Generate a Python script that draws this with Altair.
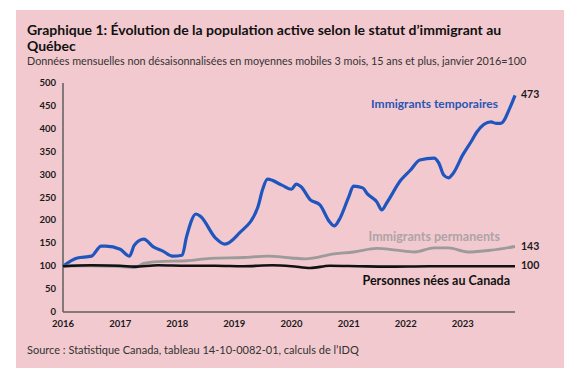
import altair as alt
import pandas as pd

temp_dates = ["2016-01","2016-04","2016-07","2016-09","2016-10","2017-01","2017-03","2017-04","2017-06",
              "2017-08","2017-10","2017-12","2018-02","2018-03","2018-05","2018-06","2018-09","2018-11",
              "2019-02","2019-06","2019-07","2019-08","2019-11","2020-01","2020-02","2020-03","2020-05",
              "2020-07","2020-09","2020-10","2020-11","2021-01","2021-02","2021-04","2021-05","2021-07",
              "2021-08","2021-09","2021-12","2022-02","2022-04","2022-07","2022-08","2022-09","2022-10",
              "2022-11","2023-01","2023-03","2023-04","2023-07","2023-08","2023-09","2023-11","2023-12"]
temp_vals = [100,118,122,144,144,137,122,146,159,
             142,133,122,124,164,214,208,162,148,
             172,230,268,290,277,268,279,274,245,
             234,197,188,201,251,275,271,258,240,
             223,238,288,310,332,336,325,299,293,
             303,343,375,393,415,412,412,448,473]

perm_dates = ["2016-01","2016-06","2016-12","2017-04","2017-06","2017-09","2018-03","2018-08","2019-03",
              "2019-08","2020-01","2020-04","2020-10","2021-02","2021-07","2021-11","2022-03","2022-07",
              "2022-10","2023-02","2023-07","2023-12"]
perm_vals = [100,101,100,97,106,110,112,117,119,
             122,118,116,127,131,139,135,131,140,
             140,131,135,143]

born_dates = ["2016-01","2016-07","2017-01","2017-04","2017-09","2018-03","2018-09","2019-03","2019-09",
              "2020-01","2020-05","2020-09","2021-03","2021-09","2022-06","2023-03","2023-12"]
born_vals = [100,102,101,99,102,101,101,100,102,
             100,96,101,100,99,100,100,100]

series_names = ["Immigrants temporaires", "Immigrants permanents", "Personnes nées au Canada"]
series_colors = ["#1f55bf", "#9c9a9b", "#111111"]
year_ticks = ["2016", "2017", "2018", "2019", "2020", "2021", "2022", "2023"]
y_ticks = [0, 50, 100, 150, 200, 250, 300, 350, 400, 450, 500]

title_lines = ["Graphique 1: Évolution de la population active selon le statut d’immigrant au", "Québec"]
subtitle = "Données mensuelles non désaisonnalisées en moyennes mobiles 3 mois, 15 ans et plus, janvier 2016=100"
source = "Source : Statistique Canada, tableau 14-10-0082-01, calculs de l’IDQ"

rows = []
for name, ds, vs in zip(series_names, [temp_dates, perm_dates, born_dates], [temp_vals, perm_vals, born_vals]):
    for d, v in zip(ds, vs):
        rows.append({"serie": name, "date": d + "-01", "valeur": v})
df = pd.DataFrame(rows)
last = df.groupby("serie", as_index=False).last()
xt = pd.DataFrame({"date": [y + "-01-01" for y in year_ticks], "lab": year_ticks})
yt = pd.DataFrame({"v": y_ticks})

FONT = "Lato"
W, H = 452, 229
PINK = "#f2c9cf"
AX = "#5e5e5e"

x_scale = alt.Scale(domain=[alt.DateTime(year=2016, month=1, date=1), alt.DateTime(year=2023, month=12, date=1)])
y_scale = alt.Scale(domain=[0, 500], nice=False)
color_scale = alt.Scale(domain=series_names, range=series_colors)
one = pd.DataFrame({"a": [0]})

bg = alt.Chart(one).mark_rect(color=PINK).encode(
    x=alt.value(-47), x2=alt.value(501), y=alt.value(-73), y2=alt.value(285))

y_dom = alt.Chart(one).mark_rule(color=AX, strokeWidth=1.5).encode(
    x=alt.value(0), y=alt.value(0), y2=alt.value(H))
x_dom = alt.Chart(one).mark_rule(color=AX, strokeWidth=1.5).encode(
    x=alt.value(0), x2=alt.value(W), y=alt.value(H))

lines = alt.Chart(df).mark_line(interpolate="monotone").encode(
    x=alt.X("date:T", scale=x_scale, axis=None),
    y=alt.Y("valeur:Q", scale=y_scale, axis=None),
    color=alt.Color("serie:N", scale=color_scale, legend=None),
    strokeWidth=alt.StrokeWidth("serie:N", scale=alt.Scale(domain=series_names, range=[3.2, 2.6, 3]), legend=None),
    detail="serie:N",
)

x_labels = alt.Chart(xt).mark_text(baseline="top", font=FONT, fontSize=9.5, fontWeight="bold",
                                   color="#1a1a1a").encode(
    x=alt.X("date:T", scale=x_scale, axis=None), y=alt.value(H + 7), text="lab:N")
y_labels = alt.Chart(yt).mark_text(align="right", baseline="middle", font=FONT, fontSize=9.5,
                                   fontWeight="bold", color="#1a1a1a").encode(
    y=alt.Y("v:Q", scale=y_scale, axis=None), x=alt.value(-7), text="v:Q")

end_labels = alt.Chart(last).mark_text(align="left", baseline="middle", dx=6, font=FONT,
                                       fontSize=10.5, fontWeight="bold", color="#1a1a1a").encode(
    x=alt.X("date:T", scale=x_scale, axis=None), y=alt.Y("valeur:Q", scale=y_scale, axis=None), text="valeur:Q")

def txt(s, x, y, size, color, weight="normal", align="left"):
    return alt.Chart(pd.DataFrame({"t": [s]})).mark_text(
        align=align, baseline="alphabetic", font=FONT, fontSize=size, fontWeight=weight, color=color
    ).encode(x=alt.value(x), y=alt.value(y), text="t:N")

annots = [
    txt(title_lines[0], -36, -48, 14, "#111111", "bold"),
    txt(title_lines[1], -36, -32, 14, "#111111", "bold"),
    txt(subtitle, -36, -18, 10.8, "#333333"),
    txt(source, -36, 271, 11, "#333333"),
    txt(series_names[0], 435, 25, 12, "#2a55b2", "bold", "right"),
    txt(series_names[1], 437, 158, 12.5, "#aca4a6", "bold", "right"),
    txt(series_names[2], 447, 202, 12.5, "#111111", "bold", "right"),
]

chart = alt.layer(bg, y_dom, x_dom, lines, x_labels, y_labels, end_labels, *annots).properties(
    width=W, height=H, autosize=alt.AutoSizeParams(type="none"),
    padding={"left": 63, "top": 83, "right": 71, "bottom": 63},
).configure(background="white").configure_view(stroke=None)

chart.save("out.html", embed_options={"renderer": "svg", "actions": False})
